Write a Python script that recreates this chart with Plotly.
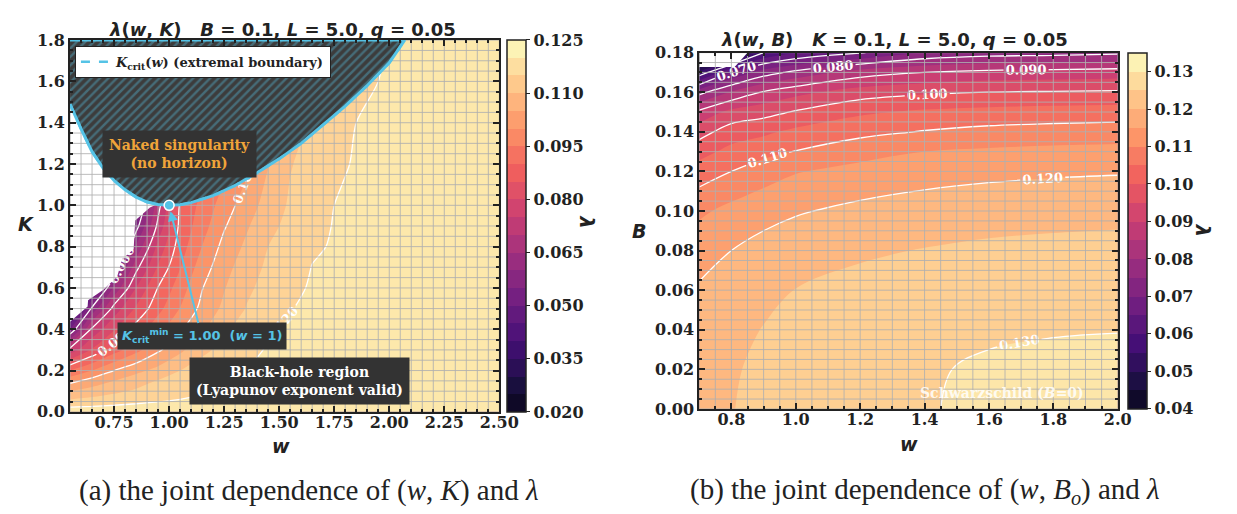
import numpy as np
import plotly.graph_objects as go
from plotly.colors import get_colorscale, sample_colorscale

# ---------------- Panel (a): lambda(w, K) ----------------
w_a = [0.55, 0.65, 0.75, 0.85, 0.95, 1.05, 1.15, 1.25, 1.35, 1.45, 1.55, 1.65, 1.75, 1.85, 2.0, 2.25, 2.5]
K_a = [0.0, 0.05, 0.1, 0.15, 0.2, 0.3, 0.4, 0.5, 0.6, 0.7, 0.8, 0.9, 1.0, 1.2, 1.4, 1.6, 1.8]
lam_a = [
    [0.1230, 0.1231, 0.1232, 0.1233, 0.1234, 0.1235, 0.1236, 0.1237, 0.1238, 0.1239, 0.1240, 0.1241, 0.1242, 0.1243, 0.1244, 0.1246, 0.1248],
    [0.1163, 0.1173, 0.1182, 0.1191, 0.1199, 0.1205, 0.1210, 0.1214, 0.1218, 0.1221, 0.1224, 0.1226, 0.1228, 0.1230, 0.1233, 0.1237, 0.1242],
    [0.1100, 0.1120, 0.1140, 0.1157, 0.1170, 0.1182, 0.1195, 0.1204, 0.1210, 0.1214, 0.1218, 0.1221, 0.1224, 0.1226, 0.1229, 0.1234, 0.1239],
    [0.1033, 0.1070, 0.1100, 0.1128, 0.1153, 0.1170, 0.1185, 0.1197, 0.1205, 0.1210, 0.1214, 0.1217, 0.1220, 0.1223, 0.1226, 0.1231, 0.1236],
    [0.0950, 0.1000, 0.1050, 0.1086, 0.1115, 0.1150, 0.1170, 0.1187, 0.1201, 0.1207, 0.1211, 0.1214, 0.1217, 0.1220, 0.1223, 0.1228, 0.1233],
    [0.0769, 0.0856, 0.0928, 0.0985, 0.1042, 0.1089, 0.1140, 0.1163, 0.1190, 0.1203, 0.1206, 0.1210, 0.1213, 0.1216, 0.1220, 0.1225, 0.1230],
    [0.0549, 0.0761, 0.0845, 0.0921, 0.0983, 0.1044, 0.1094, 0.1141, 0.1172, 0.1197, 0.1203, 0.1207, 0.1210, 0.1213, 0.1217, 0.1222, 0.1227],
    [0.0380, 0.0611, 0.0771, 0.0857, 0.0934, 0.1002, 0.1064, 0.1111, 0.1152, 0.1176, 0.1199, 0.1205, 0.1208, 0.1211, 0.1215, 0.1220, 0.1225],
    [0.0300, 0.0470, 0.0659, 0.0801, 0.0902, 0.0976, 0.1048, 0.1097, 0.1140, 0.1167, 0.1193, 0.1203, 0.1206, 0.1209, 0.1213, 0.1218, 0.1223],
    [0.0250, 0.0350, 0.0540, 0.0734, 0.0856, 0.0948, 0.1026, 0.1082, 0.1126, 0.1159, 0.1181, 0.1201, 0.1204, 0.1207, 0.1211, 0.1216, 0.1221],
    [0.0200, 0.0300, 0.0450, 0.0656, 0.0815, 0.0926, 0.1001, 0.1066, 0.1109, 0.1150, 0.1171, 0.1195, 0.1203, 0.1206, 0.1210, 0.1215, 0.1220],
    [0.0200, 0.0250, 0.0350, 0.0578, 0.0764, 0.0913, 0.0979, 0.1045, 0.1093, 0.1136, 0.1164, 0.1187, 0.1202, 0.1205, 0.1209, 0.1214, 0.1219],
    [0.0200, 0.0200, 0.0300, 0.0520, 0.0731, 0.0906, 0.0965, 0.1024, 0.1075, 0.1120, 0.1157, 0.1180, 0.1200, 0.1204, 0.1208, 0.1213, 0.1218],
    [0.0200, 0.0200, 0.0250, 0.0400, 0.0650, 0.0850, 0.0930, 0.0980, 0.1035, 0.1098, 0.1147, 0.1168, 0.1193, 0.1203, 0.1206, 0.1211, 0.1216],
    [0.0200, 0.0200, 0.0200, 0.0300, 0.0550, 0.0800, 0.0900, 0.0950, 0.1000, 0.1070, 0.1125, 0.1158, 0.1180, 0.1200, 0.1205, 0.1210, 0.1215],
    [0.0200, 0.0200, 0.0200, 0.0250, 0.0500, 0.0750, 0.0880, 0.0930, 0.0980, 0.1050, 0.1110, 0.1148, 0.1172, 0.1192, 0.1204, 0.1209, 0.1214],
    [0.0200, 0.0200, 0.0200, 0.0200, 0.0450, 0.0700, 0.0850, 0.0900, 0.0960, 0.1030, 0.1090, 0.1138, 0.1165, 0.1185, 0.1202, 0.1208, 0.1213],
]
# extremal boundary K_crit(w)
w_crit = [0.55, 0.60, 0.65, 0.70, 0.75, 0.80, 0.85, 0.90, 0.95, 1.00, 1.05, 1.10, 1.20, 1.30, 1.40,
          1.50, 1.60, 1.70, 1.80, 1.90, 2.00, 2.07]
K_crit = [1.49, 1.37, 1.26, 1.18, 1.12, 1.075, 1.04, 1.016, 1.004, 1.00, 1.003, 1.013, 1.047, 1.096, 1.158,
          1.225, 1.30, 1.39, 1.48, 1.58, 1.69, 1.80]
# minimum of K_crit
crit_w = [1.0]
crit_K = [1.0]
# region without valid exponent (left blank)
gap_w = [0.55, 0.63, 0.632, 0.70, 0.764, 0.787, 0.839, 0.846, 0.913, 0.935, 0.935, 0.55]
gap_K = [0.436, 0.51, 0.54, 0.59, 0.654, 0.74, 0.787, 0.927, 0.989, 1.0, 1.3, 1.6]

# ---------------- Panel (b): lambda(w, B) ----------------
w_b = [0.7, 0.8, 0.9, 1.0, 1.2, 1.4, 1.6, 1.8, 2.0]
B_b = [0.0, 0.02, 0.04, 0.06, 0.08, 0.10, 0.12, 0.13, 0.14, 0.15, 0.16, 0.17, 0.18]
lam_b = [
    [0.1232, 0.1248, 0.1265, 0.1275, 0.1290, 0.1298, 0.1306, 0.1311, 0.1314],
    [0.1228, 0.1245, 0.1260, 0.1272, 0.1288, 0.1297, 0.1304, 0.1308, 0.1311],
    [0.1220, 0.1235, 0.1252, 0.1265, 0.1280, 0.1288, 0.1296, 0.1298, 0.1299],
    [0.1205, 0.1222, 0.1237, 0.1251, 0.1265, 0.1273, 0.1282, 0.1284, 0.1286],
    [0.1183, 0.1200, 0.1215, 0.1232, 0.1243, 0.1252, 0.1259, 0.1262, 0.1265],
    [0.1140, 0.1165, 0.1185, 0.1195, 0.1213, 0.1223, 0.1230, 0.1235, 0.1237],
    [0.1074, 0.1100, 0.1125, 0.1147, 0.1165, 0.1180, 0.1188, 0.1193, 0.1196],
    [0.1031, 0.1065, 0.1085, 0.1102, 0.1133, 0.1150, 0.1158, 0.1163, 0.1166],
    [0.0980, 0.1025, 0.1040, 0.1062, 0.1085, 0.1103, 0.1115, 0.1121, 0.1124],
    [0.0913, 0.0965, 0.0982, 0.1005, 0.1042, 0.1058, 0.1066, 0.1071, 0.1075],
    [0.0783, 0.0855, 0.0905, 0.0935, 0.0975, 0.0992, 0.1000, 0.1004, 0.1007],
    [0.0563, 0.0700, 0.0775, 0.0815, 0.0875, 0.0900, 0.0915, 0.0920, 0.0925],
    [0.0350, 0.0450, 0.0600, 0.0650, 0.0695, 0.0755, 0.0775, 0.0780, 0.0790],
]
gap_w_b = [0.7, 0.81, 0.85, 0.7]
gap_B_b = [0.1728, 0.1728, 0.18, 0.18]

# contour levels / colour-bar ticks
LEV_A = dict(start=0.02, end=0.125, size=0.005)
LEV_B = dict(start=0.04, end=0.135, size=0.005)
CB_TICKS_A = [0.020, 0.035, 0.050, 0.065, 0.080, 0.095, 0.110, 0.125]
CB_TICKS_B = [0.04, 0.05, 0.06, 0.07, 0.08, 0.09, 0.10, 0.11, 0.12, 0.13]

# ---------------- layout helpers ----------------
W, H = 1237, 514
def px(x):
    return x / W
def py(y):
    return 1 - y / H

XR_A, YR_A = [0.55, 2.5], [0.0, 1.8]
XR_B, YR_B = [0.7, 2.0], [0.0, 0.18]
DOM_XA, DOM_YA = [px(63), px(499)], [py(410), py(24)]
DOM_XB, DOM_YB = [px(702), px(1127)], [py(407), py(37)]

CYAN = "#55c3e6"
SERIF = "DejaVu Serif"
SANS = "DejaVu Sans"
GRID = "rgba(175,175,175,0.85)"
MAGMA = get_colorscale("Magma")

def band_scale(lev):
    """discrete colour scale reproducing the filled-contour band colours"""
    start, end, size = lev["start"], lev["end"], lev["size"]
    n = int(round((end - start) / size))
    lo, hi = start - size, end
    scale = []
    for k in range(n):
        c = sample_colorscale(MAGMA, [(start + size * (k + 0.5) - lo) / (hi - lo)])[0]
        scale.append([k / n, c])
        scale.append([(k + 1) / n, c])
    return scale

def grid_lines(xr, yr, dx, dy):
    xs, ys = [], []
    for gx in np.arange(xr[0], xr[1] + dx / 2, dx):
        xs += [gx, gx, None]
        ys += [yr[0], yr[1], None]
    for gy in np.arange(yr[0], yr[1] + dy / 2, dy):
        xs += [xr[0], xr[1], None]
        ys += [gy, gy, None]
    return xs, ys

fig = go.Figure()
tickfont = dict(family=SERIF, size=16, color="#222", weight="bold")
labfont = dict(family=SERIF, size=13, color="white", weight="bold")

def colorbar(xpix, dom, ticks, fmt):
    return dict(x=px(xpix), xanchor="left", y=(dom[0] + dom[1]) / 2, yanchor="middle",
                len=dom[1] - dom[0], lenmode="fraction", thickness=19, xpad=0, ypad=0,
                outlinecolor="#222", outlinewidth=1.5, ticks="outside", ticklen=4, tickcolor="#222",
                tickvals=ticks, tickformat=fmt, tickfont=tickfont)

# ---- panel a ----
fig.add_trace(go.Contour(
    x=w_a, y=K_a, z=lam_a, xaxis="x", yaxis="y", colorscale="Magma", autocontour=False,
    contours=dict(coloring="fill", **LEV_A), line=dict(width=0, smoothing=0.8),
    showscale=False, showlegend=False, hoverinfo="skip"))
fig.add_trace(go.Contour(
    x=w_a, y=K_a, z=lam_a, xaxis="x", yaxis="y", showscale=False, showlegend=False, autocontour=False,
    contours=dict(start=0.06, end=0.12, size=0.015, coloring="none", showlabels=True,
                  labelformat=".3f", labelfont=labfont),
    line=dict(color="white", width=1.3, smoothing=0.8), hoverinfo="skip"))
fig.add_trace(go.Scatter(
    x=[None], y=[None], xaxis="x", yaxis="y", mode="markers", showlegend=False, hoverinfo="skip",
    marker=dict(color=[LEV_A["start"]], colorscale=band_scale(LEV_A), cmin=LEV_A["start"],
                cmax=LEV_A["end"], showscale=True,
                colorbar=colorbar(507, DOM_YA, CB_TICKS_A, ".3f"))))
fig.add_trace(go.Scatter(x=gap_w, y=gap_K, xaxis="x", yaxis="y", mode="lines", fill="toself",
                         fillcolor="white", line=dict(width=0), showlegend=False, hoverinfo="skip"))
gx, gy = grid_lines(XR_A, YR_A, 0.05, 0.05)
fig.add_trace(go.Scatter(x=gx, y=gy, xaxis="x", yaxis="y", mode="lines",
                         line=dict(color=GRID, width=1), showlegend=False, hoverinfo="skip"))
fig.add_trace(go.Scatter(
    x=w_crit + [w_crit[-1], w_crit[0]], y=K_crit + [YR_A[1], YR_A[1]], xaxis="x", yaxis="y",
    mode="lines", fill="toself", fillcolor="#3c3c3c",
    fillpattern=dict(shape="/", bgcolor="#3c3c3c", fgcolor="#4f9cb4", size=6, solidity=0.4),
    line=dict(color=CYAN, width=3), showlegend=False, hoverinfo="skip"))
fig.add_trace(go.Scatter(
    x=w_crit, y=K_crit, xaxis="x", yaxis="y", mode="lines",
    line=dict(color=CYAN, width=2.5, dash="dash"),
    name="<i>K</i><sub>crit</sub>(<i>w</i>) (extremal boundary)", showlegend=True))
fig.add_trace(go.Scatter(x=crit_w, y=crit_K, xaxis="x", yaxis="y", mode="markers",
                         marker=dict(size=10, color=CYAN, line=dict(color="white", width=1.5)),
                         showlegend=False, hoverinfo="skip"))

# ---- panel b ----
fig.add_trace(go.Contour(
    x=w_b, y=B_b, z=lam_b, xaxis="x2", yaxis="y2", colorscale="Magma", autocontour=False,
    contours=dict(coloring="fill", **LEV_B), line=dict(width=0, smoothing=1.0),
    showscale=False, showlegend=False, hoverinfo="skip"))
fig.add_trace(go.Contour(
    x=w_b, y=B_b, z=lam_b, xaxis="x2", yaxis="y2", showscale=False, showlegend=False, autocontour=False,
    contours=dict(start=0.05, end=0.13, size=0.01, coloring="none", showlabels=True,
                  labelformat=".3f", labelfont=labfont),
    line=dict(color="white", width=1.3, smoothing=1.0), hoverinfo="skip"))
fig.add_trace(go.Scatter(
    x=[None], y=[None], xaxis="x2", yaxis="y2", mode="markers", showlegend=False, hoverinfo="skip",
    marker=dict(color=[LEV_B["start"]], colorscale=band_scale(LEV_B), cmin=LEV_B["start"],
                cmax=LEV_B["end"], showscale=True,
                colorbar=colorbar(1137, DOM_YB, CB_TICKS_B, ".2f"))))
fig.add_trace(go.Scatter(x=gap_w_b, y=gap_B_b, xaxis="x2", yaxis="y2", mode="lines", fill="toself",
                         fillcolor="white", line=dict(width=0), showlegend=False, hoverinfo="skip"))
gx2, gy2 = grid_lines(XR_B, YR_B, 0.05, 0.005)
fig.add_trace(go.Scatter(x=gx2, y=gy2, xaxis="x2", yaxis="y2", mode="lines",
                         line=dict(color=GRID, width=1), showlegend=False, hoverinfo="skip"))

axis_common = dict(showline=True, linecolor="#222", linewidth=2, mirror="allticks", ticks="inside",
                   ticklen=6, tickwidth=1.5, tickcolor="#222", showgrid=False, zeroline=False,
                   tickfont=tickfont)
def minor(d):
    return dict(dtick=d, ticks="inside", ticklen=3, tickcolor="#222", showgrid=False)

fig.update_layout(
    width=W, height=H, margin=dict(l=0, r=0, t=0, b=0),
    paper_bgcolor="white", plot_bgcolor="white",
    xaxis=dict(domain=DOM_XA, range=XR_A, anchor="y", tick0=0, dtick=0.25, tickformat=".2f",
               minor=minor(0.05), ticklabelstandoff=-5, **axis_common),
    yaxis=dict(domain=DOM_YA, range=YR_A, anchor="x", tick0=0, dtick=0.2, tickformat=".1f",
               minor=minor(0.05), **axis_common),
    xaxis2=dict(domain=DOM_XB, range=XR_B, anchor="y2", tick0=0, dtick=0.2, tickformat=".1f",
                minor=minor(0.05), ticklabelstandoff=-5, **axis_common),
    yaxis2=dict(domain=DOM_YB, range=YR_B, anchor="x2", tick0=0, dtick=0.02, tickformat=".2f",
                minor=minor(0.005), **axis_common),
    legend=dict(x=px(68), y=py(30), xanchor="left", yanchor="top", bgcolor="white",
                bordercolor="#222", borderwidth=1,
                font=dict(family=SERIF, size=13, color="#222", weight="bold"),
                itemwidth=30, tracegroupgap=0),
    showlegend=True,
)

ann = []
def text(x, y, s, size, color="#222", family=SANS, weight="bold", **kw):
    ann.append(dict(x=px(x), y=py(y), xref="paper", yref="paper", text=s, showarrow=False,
                    xanchor="center", yanchor="middle",
                    font=dict(family=family, size=size, color=color, weight=weight), **kw))

text(279, 13, "<i>λ</i>(<i>w</i>, <i>K</i>)&nbsp;&nbsp;&nbsp;<i>B</i> = 0.1, <i>L</i> = 5.0, <i>q</i> = 0.05", 18)
text(900, 23, "<i>λ</i>(<i>w</i>, <i>B</i>)&nbsp;&nbsp;&nbsp;<i>K</i> = 0.1, <i>L</i> = 5.0, <i>q</i> = 0.05", 18)
text(277, 445, "<i>w</i>", 19)
text(915, 443, "<i>w</i>", 19)
text(18, 215, "<i>K</i>", 19)
text(641, 222, "<i>B</i>", 19)
text(588, 213, "<i>λ</i>", 20, textangle=90)
text(1214, 222, "<i>λ</i>", 20, textangle=90)
text(306, 492, "(a) the joint dependence of (<i>w</i>, <i>K</i>) and <i>λ</i>", 29,
     family="Liberation Serif", weight="normal")
text(931, 492, "(b) the joint dependence of (<i>w</i>, <i>B<sub>o</sub></i>) and <i>λ</i>", 29,
     family="Liberation Serif", weight="normal")
text(174, 142, "Naked singularity<br>(no horizon)", 14, color="#f0a43a", family=SERIF,
     bgcolor="#333333", borderpad=6)
text(296, 378, "Black-hole region<br>(Lyapunov exponent valid)", 14, color="white", family=SERIF,
     bgcolor="#333333", borderpad=6)
text(1010, 390, "Schwarzschild (<i>B</i>=0)", 14, color="rgba(255,255,255,0.85)", family=SERIF)

ann.append(dict(x=crit_w[0], y=crit_K[0], xref="x", yref="y", axref="x", ayref="y",
                ax=1.148, ay=0.365, showarrow=True, arrowhead=2, arrowsize=1, arrowwidth=2,
                arrowcolor=CYAN, standoff=6,
                text="<i>K</i><sub>crit</sub><sup>min</sup> = 1.00&nbsp;&nbsp;(<i>w</i> = 1)",
                font=dict(family=SANS, size=13, color=CYAN, weight="bold"),
                bgcolor="#333333", borderpad=4))

fig.update_layout(annotations=ann)
fig.write_html("out.html")
